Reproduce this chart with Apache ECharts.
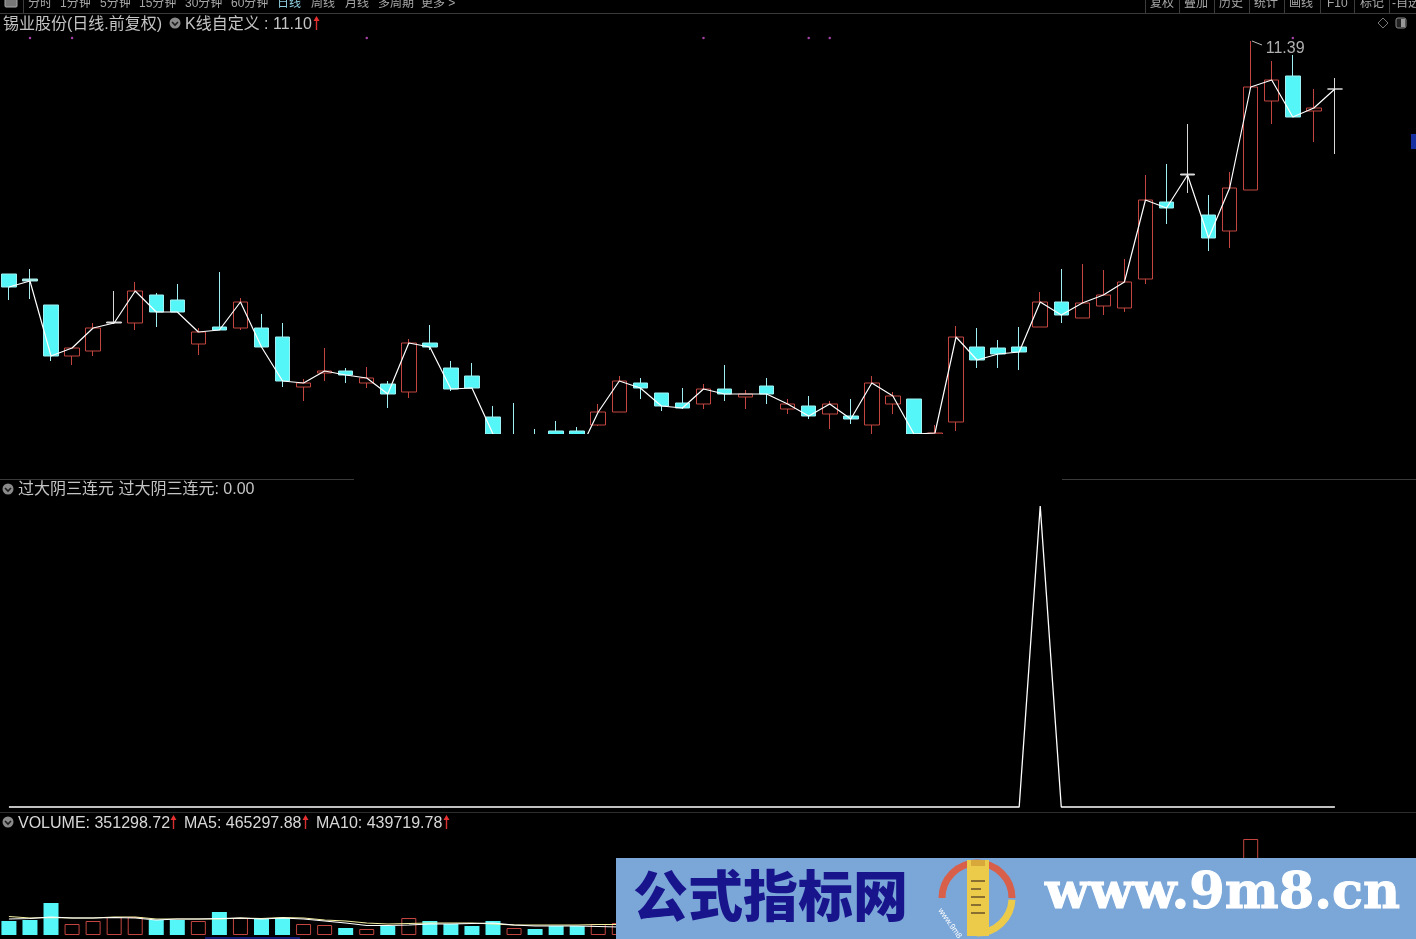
<!DOCTYPE html>
<html><head><meta charset="utf-8">
<style>html,body{margin:0;padding:0;background:#000}#c{width:1416px;height:939px}</style>
<script src="https://cdn.jsdelivr.net/npm/echarts@6/dist/echarts.min.js"></script>
</head><body><div id="c"></div>
<script>
const opens=[9.990,9.960,9.804,9.498,9.528,9.702,9.696,9.864,9.834,9.570,9.672,9.666,9.666,9.612,9.312,9.396,9.408,9.336,9.330,9.282,9.576,9.426,9.378,9.132,9.018,9.018,9.048,9.048,9.084,9.162,9.336,9.276,9.216,9.210,9.300,9.252,9.318,9.180,9.198,9.150,9.138,9.084,9.210,9.240,9.030,9.102,9.552,9.546,9.552,9.672,9.822,9.726,9.798,9.786,9.960,10.422,10.590,10.344,10.248,10.494,11.028,11.178,10.968,11.100];
const closes=[9.912,9.948,9.498,9.546,9.666,9.696,9.888,9.762,9.762,9.642,9.654,9.822,9.552,9.348,9.336,9.408,9.384,9.366,9.270,9.576,9.552,9.300,9.306,9.030,8.964,8.946,8.934,8.898,9.162,9.348,9.306,9.198,9.186,9.300,9.270,9.270,9.270,9.210,9.138,9.210,9.120,9.336,9.258,9.030,9.036,9.612,9.474,9.510,9.522,9.822,9.744,9.816,9.864,9.942,10.434,10.386,10.584,10.206,10.506,11.112,11.154,10.932,10.986,11.100];
const lows=[9.834,9.840,9.468,9.444,9.498,9.690,9.654,9.672,9.762,9.504,9.654,9.654,9.552,9.312,9.228,9.348,9.336,9.306,9.186,9.246,9.534,9.288,9.306,9.018,8.934,8.904,8.886,8.862,9.078,9.162,9.240,9.168,9.180,9.180,9.228,9.180,9.210,9.150,9.120,9.060,9.090,9.030,9.150,9.030,9.030,9.048,9.426,9.426,9.414,9.672,9.696,9.726,9.744,9.762,9.930,10.290,10.476,10.128,10.146,10.494,10.890,10.932,10.782,10.710];
const highs=[9.990,10.020,9.804,9.546,9.696,9.888,9.942,9.876,9.930,9.666,10.002,9.846,9.750,9.696,9.360,9.546,9.426,9.432,9.348,9.600,9.684,9.468,9.456,9.198,9.216,9.060,9.108,9.072,9.210,9.378,9.366,9.276,9.306,9.330,9.444,9.294,9.366,9.240,9.258,9.228,9.240,9.378,9.282,9.240,9.084,9.678,9.666,9.594,9.672,9.882,10.020,10.050,10.014,10.080,10.584,10.650,10.890,10.464,10.602,11.388,11.268,11.304,11.100,11.166];
const dojiDays=[1,5,56,63];
const signalDays=[1,3,17,33,38,39,61];
const signalValue=[0,0,0,0,0,0,0,0,0,0,0,0,0,0,0,0,0,0,0,0,0,0,0,0,0,0,0,0,0,0,0,0,0,0,0,0,0,0,0,0,0,0,0,0,0,0,0,0,0,1,0,0,0,0,0,0,0,0,0,0,0,0,0,0];
const volumes=[196000,210000,448000,154000,196000,252000,252000,210000,210000,196000,322000,238000,224000,238000,154000,140000,98000,84000,126000,238000,196000,154000,126000,196000,98000,84000,126000,126000,154000,168000,168000,154000,140000,168000,154000,126000,140000,112000,140000,126000,112000,196000,140000,182000,98000,420000,308000,224000,252000,392000,308000,280000,252000,336000,728000,560000,504000,476000,616000,1344000,784000,560000,420000,351299];
const volumeRising=[0,0,0,1,1,1,1,0,0,1,0,1,0,0,1,1,0,1,0,1,0,0,0,0,1,0,0,0,1,1,0,0,0,1,0,1,0,1,0,1,0,1,1,0,1,1,0,0,0,1,0,1,1,1,1,0,0,0,1,1,1,0,1,1];
const ma5=[224000,231000,252000,238000,238000,245000,238000,210000,224000,224000,231000,238000,224000,238000,224000,196000,168000,133000,133000,140000,154000,154000,161000,168000,140000,126000,126000,126000,119000,112000];
const ma10=[259000,238000,245000,238000,238000,252000,252000,224000,224000,224000,224000,238000,231000,245000,238000,210000,196000,168000,154000,161000,168000,168000,168000,154000,140000,140000,140000,140000,147000,147000];
const days=opens.map((_,i)=>String(i+1));

const UP='#c2463f', DOWN='#55f6f8', TXT='#c4c4c4';
const FF='"Liberation Sans","Noto Sans CJK SC",sans-serif';
const candle=opens.map((o,i)=>{
  const v=[o,closes[i],lows[i],highs[i]];
  if(dojiDays.includes(i)){const c=i===1?'#a8ecec':'#d8d8d8';return {value:v,itemStyle:{color:c,color0:c,borderColor:c,borderColor0:c}};}
  return v;
});
const signals=signalDays.map(i=>[i,11.406]);

function T(text,x,y,size,fill,extra){return Object.assign({type:'text',z:50,silent:true,style:Object.assign({text,x,y,fill:fill||TXT,fontSize:size,fontFamily:FF,verticalAlign:'middle',align:'left'},extra||{})});}
function L(x1,y1,x2,y2,c,w,z){return {type:'line',z:z||50,silent:true,shape:{x1,y1,x2,y2},style:{stroke:c,lineWidth:w||1}};}
function icon(x,y){return [
 {type:'circle',z:50,silent:true,shape:{cx:x,cy:y,r:5.5},style:{fill:'#8a8a8a'}},
 {type:'polyline',z:51,silent:true,shape:{points:[[x-3,y-1],[x,y+2],[x+3,y-1]]},style:{stroke:'#1c1c1c',lineWidth:1.6,fill:'none'}}];}
function arrow(x,y){return [
 L(x+.5,y-5,x+.5,y+7,'#d83030',1.4),
 {type:'polygon',z:51,silent:true,shape:{points:[[x+.5,y-7],[x+3.5,y-2],[x-2.5,y-2]]},style:{fill:'#e83030'}}];}

const g=[];
// curtain below the upper panel: the reference cuts its candles off here
g.push({type:'rect',z:20,silent:true,shape:{x:0,y:434,width:1416,height:45},style:{fill:'#000'}});
// top toolbar
[['分时',28],['1分钟',60],['5分钟',100],['15分钟',139],['30分钟',185],['60分钟',231],['周线',311],['月线',345],['多周期',378],['更多 >',421]].forEach(a=>g.push(T(a[0],a[1],4,12,'#a8a8a8')));
g.push(T('日线',277,4,12,'#8fd0e0'));
[['复权',1150],['叠加',1184],['历史',1219],['统计',1254],['画线',1289],['F10',1327],['标记',1360],['-自选',1392]].forEach(a=>g.push(T(a[0],a[1],4,12,'#a8a8a8')));
[1145,1179,1214,1249,1284,1320,1354,1389].forEach(x=>g.push(L(x+.5,0,x+.5,13,'#3c3c3c')));
g.push(L(23.5,0,23.5,13,'#3c3c3c'));
g.push({type:'rect',z:50,silent:true,shape:{x:5,y:-3,width:12,height:10,r:1},style:{fill:'#777',stroke:'#aaa'}});
g.push(L(0,13.5,1416,13.5,'#3a3a3a'));
g.push(L(0,479.5,354,479.5,'#3a3a3a'),L(1062,479.5,1416,479.5,'#3a3a3a'));
g.push(L(0,812.5,1416,812.5,'#2e2e2e'));
// headers
g.push(T('锡业股份(日线.前复权)',3,25,16,TXT));
g.push(...icon(175,23));
g.push(T('K线自定义 : 11.10',185,25,16,TXT));
g.push(...arrow(316,23));
g.push(...icon(8,489));
g.push(T('过大阴三连元 过大阴三连元: 0.00',18,490,16,TXT));
g.push(...icon(8,822));
g.push(T('VOLUME: 351298.72',18,824,16,'#d8d8d8'));
g.push(...arrow(173,822));
g.push(T('MA5: 465297.88',184,824,16,'#d8d8d8'));
g.push(...arrow(305,822));
g.push(T('MA10: 439719.78',316,824,16,'#d8d8d8'));
g.push(...arrow(446,822));
// top right icons
g.push({type:'polygon',z:50,silent:true,shape:{points:[[1383,18],[1388,23],[1383,28],[1378,23]]},style:{fill:'none',stroke:'#777',lineWidth:1}});
g.push({type:'rect',z:50,silent:true,shape:{x:1396,y:18,width:10,height:10,r:2},style:{fill:'#222',stroke:'#888'}});
g.push({type:'rect',z:51,silent:true,shape:{x:1401,y:19,width:4,height:8},style:{fill:'#999'}});
g.push({type:'rect',z:50,silent:true,shape:{x:1411,y:134,width:5,height:15},style:{fill:'#1530a0'}});
g.push(L(1252,41,1262,45,'#bbbbbb',1));
g.push({type:'rect',z:50,silent:true,shape:{x:205,y:937,width:95,height:2},style:{fill:'#101a70'}});
// watermark
g.push({type:'rect',z:100,silent:true,shape:{x:616,y:858,width:800,height:81},style:{fill:'#7ba7d8'}});
g.push({type:'text',z:101,silent:true,style:{text:'公式指标网',x:633,y:895,fill:'#17148c',fontSize:55,fontWeight:900,fontFamily:'"Noto Sans CJK SC"',verticalAlign:'middle'}});
g.push({type:'text',z:101,silent:true,style:{text:'www.9m8.cn',x:1045,y:895,fill:'#ffffff',fontSize:51,fontWeight:900,fontFamily:'"DejaVu Serif"',verticalAlign:'middle',stroke:'#ffffff',lineWidth:1}});
const lc=[977,898];
g.push({type:'arc',z:101,silent:true,shape:{cx:lc[0],cy:lc[1],r:35,startAngle:Math.PI*1.0,endAngle:Math.PI*2.0,clockwise:true},style:{stroke:'#d8604a',lineWidth:7,fill:'none'}});
g.push({type:'arc',z:101,silent:true,shape:{cx:lc[0],cy:lc[1],r:35,startAngle:0.05,endAngle:Math.PI*0.5,clockwise:true},style:{stroke:'#eccb4a',lineWidth:7,fill:'none'}});
g.push({type:'rect',z:102,silent:true,shape:{x:967,y:860,width:22,height:76},style:{fill:'#eccb4a'}});
g.push({type:'rect',z:102,silent:true,shape:{x:971,y:860,width:14,height:6},style:{fill:'#d8a83a'}});
[[971,880,14,2],[971,888,10,2],[971,896,14,2],[971,904,10,2],[971,912,14,2]].forEach(r=>g.push({type:'rect',z:103,silent:true,shape:{x:r[0],y:r[1],width:r[2],height:r[3]},style:{fill:'#8a7030'}}));
g.push({type:'text',z:103,silent:true,x:943,y:907,rotation:-0.95,style:{text:'www.9m8.cn',x:0,y:0,fill:'#ffffff',fontSize:8,fontFamily:FF,verticalAlign:'top'}});

const gridX={left:-1.6,width:1347,outerBoundsMode:'none'};
const hide={show:false};
const option={
 animation:false,backgroundColor:'#000',
 grid:[Object.assign({top:14,height:419.5},gridX),Object.assign({top:506,height:301},gridX),Object.assign({top:830,height:105},gridX)],
 xAxis:[0,1,2].map(i=>({type:'category',gridIndex:i,data:days,boundaryGap:true,show:false})),
 yAxis:[
  {type:'value',gridIndex:0,min:9.033,max:11.55,show:false,splitLine:hide},
  {type:'value',gridIndex:1,min:0,max:1,show:false,splitLine:hide},
  {type:'value',gridIndex:2,min:0,max:1470000,show:false,splitLine:hide}],
 graphic:{elements:g},
 series:[
  {type:'candlestick',xAxisIndex:0,yAxisIndex:0,data:candle,barWidth:15,clip:true,
   itemStyle:{color:'#000',color0:DOWN,borderColor:UP,borderColor0:'#9ff0f2',borderWidth:1},
   markPoint:{symbol:'circle',symbolSize:0,silent:true,data:[{coord:[59,11.388],value:'11.39',label:{show:true,position:'right',formatter:'11.39',color:'#b0b0b0',fontSize:16,fontFamily:FF,offset:[10,8]}}]}},
  {type:'line',xAxisIndex:0,yAxisIndex:0,data:closes,showSymbol:false,symbol:'none',lineStyle:{color:'#fff',width:1.2},z:5},
  {type:'scatter',xAxisIndex:0,yAxisIndex:0,data:signals,symbolSize:2.5,itemStyle:{color:'#d050d0'},z:6},
  {type:'line',xAxisIndex:1,yAxisIndex:1,data:signalValue,showSymbol:false,symbol:'none',clip:false,lineStyle:{color:'#fff',width:1.3}},
  {type:'bar',xAxisIndex:2,yAxisIndex:2,barWidth:15,data:volumes.map((v,i)=>({value:v,itemStyle:volumeRising[i]?{color:'#000',borderColor:UP,borderWidth:1}:{color:DOWN,borderWidth:0}}))},
  {type:'line',xAxisIndex:2,yAxisIndex:2,data:ma10,showSymbol:false,symbol:'none',lineStyle:{color:'#f5f0a0',width:1.2},z:5},
  {type:'line',xAxisIndex:2,yAxisIndex:2,data:ma5,showSymbol:false,symbol:'none',lineStyle:{color:'#fff',width:1.2},z:6}
 ]
};
echarts.init(document.getElementById('c'),null,{renderer:'canvas'}).setOption(option);
</script></body></html>
